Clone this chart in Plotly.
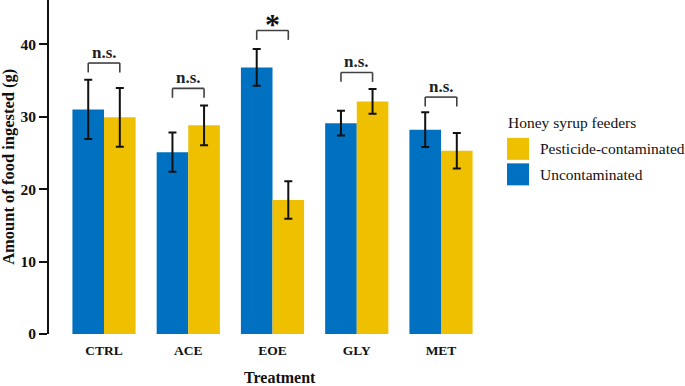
import plotly.graph_objects as go

categories = ["CTRL", "ACE", "EOE", "GLY", "MET"]
uncontaminated = [31.0, 25.1, 36.8, 29.1, 28.2]
uncontaminated_err = [4.1, 2.7, 2.55, 1.7, 2.4]
contaminated = [29.9, 28.8, 18.5, 32.1, 25.3]
contaminated_err = [4.05, 2.75, 2.6, 1.7, 2.45]
sig_labels = ["n.s.", "n.s.", "*", "n.s.", "n.s."]
sig_heights = [37.4, 33.9, 41.9, 36.1, 32.7]

BLUE = "#0070C0"
YELLOW = "#EFC000"
FONT = "Liberation Serif"

W, H = 685, 386
L, R = 49, 487          # plot area left/right in px
T, B = 0, 334.3         # plot area top/bottom in px

def px(x):
    return (x - L) / (R - L)

def py(y):
    return (B - y) / (B - T)

xs = list(range(len(categories)))

fig = go.Figure()
fig.add_trace(go.Bar(
    x=xs, y=uncontaminated, name="Uncontaminated",
    marker=dict(color=BLUE, line=dict(width=0)),
    error_y=dict(type="data", array=uncontaminated_err, color="#111111", thickness=2, width=4),
))
fig.add_trace(go.Bar(
    x=xs, y=contaminated, name="Pesticide-contaminated",
    marker=dict(color=YELLOW, line=dict(width=0)),
    error_y=dict(type="data", array=contaminated_err, color="#111111", thickness=2, width=4),
))

half = 0.75 / 4
shapes = []
annotations = []
for i, (lab, h) in enumerate(zip(sig_labels, sig_heights)):
    x0, x1 = i - half, i + half
    for (a, b, c, d) in [(x0, h - 1.3, x0, h), (x0, h, x1, h), (x1, h, x1, h - 1.3)]:
        shapes.append(dict(type="line", xref="x", yref="y", x0=a, y0=b, x1=c, y1=d,
                           line=dict(color="#404040", width=1.6)))
    if lab == "*":
        annotations.append(dict(x=i, y=h, xref="x", yref="y", text="<b>*</b>", showarrow=False,
                                yanchor="bottom", yshift=-12,
                                font=dict(family=FONT, size=30, color="#111111")))
    else:
        annotations.append(dict(x=i, y=h, xref="x", yref="y", text="<b>n.s.</b>", showarrow=False,
                                yanchor="bottom", yshift=-1,
                                font=dict(family=FONT, size=17, color="#222222")))

# axis titles
annotations.append(dict(x=px(9), y=py(167), xref="paper", yref="paper", text="<b>Amount of food ingested (g)</b>",
                        textangle=-90, showarrow=False, xanchor="center", yanchor="middle",
                        font=dict(family=FONT, size=16.5, color="#111111")))
annotations.append(dict(x=px(280), y=py(378), xref="paper", yref="paper", text="<b>Treatment</b>",
                        showarrow=False, xanchor="center", yanchor="middle",
                        font=dict(family=FONT, size=16, color="#111111")))

# legend (manual)
annotations.append(dict(x=px(506), y=py(123), xref="paper", yref="paper", text="Honey syrup feeders",
                        showarrow=False, xanchor="left", yanchor="middle",
                        font=dict(family=FONT, size=15.5, color="#111111")))
for name, col, yc in [("Pesticide-contaminated", YELLOW, 149), ("Uncontaminated", BLUE, 174.5)]:
    shapes.append(dict(type="rect", xref="paper", yref="paper",
                       x0=px(507), x1=px(529), y0=py(yc - 11), y1=py(yc + 11),
                       fillcolor=col, line=dict(width=0)))
    annotations.append(dict(x=px(538), y=py(yc), xref="paper", yref="paper", text=name,
                            showarrow=False, xanchor="left", yanchor="middle",
                            font=dict(family=FONT, size=15.5, color="#111111")))

fig.update_layout(
    width=W, height=H,
    margin=dict(l=L, r=W - R, t=T, b=H - B),
    barmode="group", bargap=0.25, bargroupgap=0,
    plot_bgcolor="white", paper_bgcolor="white",
    showlegend=False,
    shapes=shapes, annotations=annotations,
    xaxis=dict(range=[-0.653, 4.546], tickvals=xs, ticktext=[f"<b>{c}</b>" for c in categories],
               showline=False, showgrid=False, zeroline=False, ticks="", ticklabelstandoff=6,
               tickfont=dict(family=FONT, size=13.5, color="#111111")),
    yaxis=dict(range=[0, 46.1], tickvals=[0, 10, 20, 30, 40], ticktext=["<b>0</b>", "<b>10</b>", "<b>20</b>", "<b>30</b>", "<b>40</b>"],
               showline=True, linecolor="#111111", linewidth=2, ticks="outside", ticklen=8,
               tickwidth=2, tickcolor="#111111", showgrid=False, zeroline=False,
               tickfont=dict(family=FONT, size=15.5, color="#111111")),
)

fig.write_html("out.html")
